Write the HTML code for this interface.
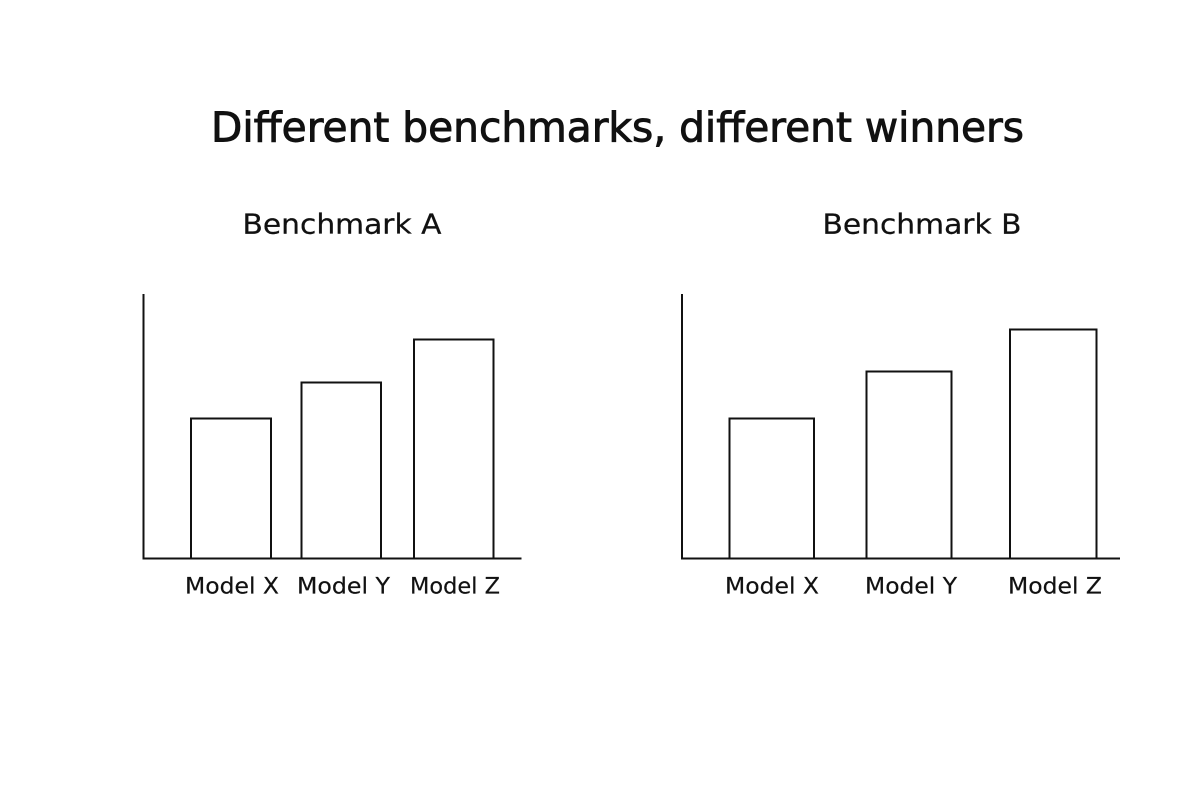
<!DOCTYPE html>
<html>
<head>
<meta charset="utf-8">
<style>
  html, body { margin: 0; padding: 0; background: #ffffff; }
  body { width: 1200px; height: 800px; overflow: hidden; }
  svg { display: block; }
  text { font-family: "DejaVu Sans", "Liberation Sans", sans-serif; fill: #111; }
</style>
</head>
<body>
<svg width="1200" height="800" viewBox="0 0 1200 800" xmlns="http://www.w3.org/2000/svg">
  <rect width="1200" height="800" fill="#ffffff"/>

  <!-- Title -->
  <text x="211" y="141.5" font-size="41" textLength="813" lengthAdjust="spacingAndGlyphs" stroke="#111" stroke-width="0.9">Different benchmarks, different winners</text>

  <!-- Subtitles -->
  <text x="242.5" y="233.3" font-size="28" textLength="199" lengthAdjust="spacingAndGlyphs" stroke="#111" stroke-width="0.25">Benchmark A</text>
  <text x="822.5" y="233.3" font-size="28" textLength="199" lengthAdjust="spacingAndGlyphs" stroke="#111" stroke-width="0.25">Benchmark B</text>

  <g fill="none" stroke="#111" stroke-width="2">
    <!-- Left chart axes -->
    <line x1="143.5" y1="294" x2="143.5" y2="558.5"/>
    <line x1="142.5" y1="558.5" x2="521.5" y2="558.5"/>
    <!-- Left bars -->
    <rect x="191" y="418.5" width="80" height="140"/>
    <rect x="301.5" y="382.5" width="79.5" height="176"/>
    <rect x="414" y="339.5" width="79.5" height="219"/>

    <!-- Right chart axes -->
    <line x1="682" y1="294" x2="682" y2="558.5"/>
    <line x1="681" y1="558.5" x2="1120" y2="558.5"/>
    <!-- Right bars -->
    <rect x="729.5" y="418.5" width="84.5" height="140"/>
    <rect x="866.5" y="371.5" width="85" height="187"/>
    <rect x="1010" y="329.5" width="86.5" height="229"/>
  </g>

  <!-- Left labels -->
  <text x="185" y="593.3" font-size="22" textLength="94" lengthAdjust="spacingAndGlyphs" stroke="#111" stroke-width="0.2">Model X</text>
  <text x="297" y="593.3" font-size="22" textLength="93" lengthAdjust="spacingAndGlyphs" stroke="#111" stroke-width="0.2">Model Y</text>
  <text x="410" y="593.3" font-size="22" textLength="90" lengthAdjust="spacingAndGlyphs" stroke="#111" stroke-width="0.2">Model Z</text>

  <!-- Right labels -->
  <text x="725" y="593.3" font-size="22" textLength="94" lengthAdjust="spacingAndGlyphs" stroke="#111" stroke-width="0.2">Model X</text>
  <text x="865" y="593.3" font-size="22" textLength="92" lengthAdjust="spacingAndGlyphs" stroke="#111" stroke-width="0.2">Model Y</text>
  <text x="1008" y="593.3" font-size="22" textLength="94" lengthAdjust="spacingAndGlyphs" stroke="#111" stroke-width="0.2">Model Z</text>
</svg>
</body>
</html>
